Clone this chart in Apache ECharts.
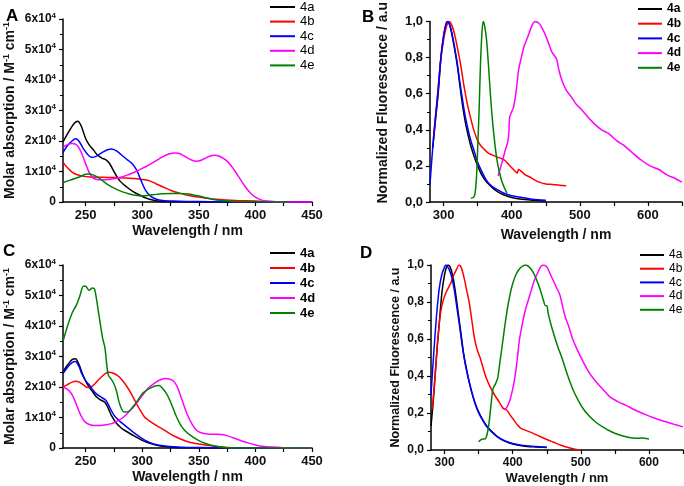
<!DOCTYPE html>
<html><head><meta charset="utf-8">
<script src="https://cdn.jsdelivr.net/npm/echarts@6/dist/echarts.min.js"></script>
<style>html,body{margin:0;padding:0;background:#fff}#c{width:684px;height:486px}</style>
</head><body><div id="c"></div>
<script>
// ---------- DATA ----------
const seriesNames = ['4a','4b','4c','4d','4e'];
const panelLetters = ['A','B','C','D'];
const xTicksAbs = [250,300,350,400,450];
const xMinorAbs = [250,275,300,325,350,375,400,425,450];
const xTicksFl = [300,400,500,600];
const xMinorFl = [300,350,400,450,500,550,600,650];

// Panel A: absorption (units of 1e4 M-1 cm-1)
const A_4a = [[230,1.97],[235,2.3],[240,2.58],[243,2.65],[246,2.5],[250,2.08],[253,1.88],[257,1.7],[260,1.56],[264,1.45],[268,1.38],[271,1.27],[275,1.0],[280,0.7],[286,0.5],[292,0.34],[298,0.22],[304,0.12],[310,0.06],[316,0.02],[325,0.01],[340,0],[450,0]];
const A_4b = [[230,1.3],[234,1.12],[238,0.98],[242,0.9],[248,0.84],[255,0.82],[265,0.81],[275,0.8],[285,0.79],[292,0.77],[300,0.74],[306,0.7],[312,0.6],[318,0.5],[326,0.37],[333,0.29],[340,0.22],[348,0.17],[355,0.13],[368,0.08],[384,0.05],[400,0.03],[415,0.01],[430,0],[450,0]];
const A_4c = [[230,1.62],[234,1.85],[238,2.0],[241,2.07],[244,2.0],[248,1.75],[252,1.55],[255,1.47],[258,1.48],[262,1.56],[266,1.65],[270,1.72],[273,1.74],[278,1.66],[283,1.5],[287,1.38],[291,1.26],[295,1.05],[299,0.7],[303,0.38],[307,0.2],[312,0.1],[318,0.05],[328,0.03],[340,0.02],[360,0.01],[380,0],[450,0]];
const A_4d = [[230,1.8],[234,1.88],[238,1.92],[241,1.9],[244,1.78],[247,1.55],[250,1.25],[253,0.98],[256,0.8],[260,0.74],[265,0.73],[270,0.74],[276,0.77],[282,0.82],[288,0.9],[294,0.99],[300,1.1],[306,1.22],[312,1.35],[318,1.48],[324,1.58],[328,1.61],[332,1.6],[336,1.53],[340,1.44],[344,1.37],[348,1.34],[352,1.37],[356,1.44],[360,1.51],[364,1.53],[368,1.5],[372,1.42],[376,1.3],[380,1.12],[384,0.9],[388,0.67],[392,0.45],[396,0.28],[400,0.16],[405,0.07],[410,0.03],[418,0.01],[430,0],[450,0]];
const A_4e = [[230,0.63],[235,0.7],[240,0.76],[245,0.83],[250,0.91],[253,0.92],[257,0.88],[262,0.78],[266,0.67],[270,0.56],[276,0.44],[282,0.34],[288,0.27],[294,0.22],[300,0.2],[306,0.22],[312,0.25],[318,0.27],[326,0.28],[334,0.28],[341,0.26],[348,0.21],[355,0.15],[362,0.09],[370,0.05],[380,0.02],[395,0.01],[410,0],[430,0]];

// Panel B: normalized fluorescence
const B_4a = [[284,0.3],[288,0.45],[292,0.6],[296,0.8],[300,0.92],[304,0.99],[306,1.0],[309,0.98],[312,0.93],[316,0.85],[320,0.76],[324,0.64],[328,0.53],[332,0.44],[336,0.37],[340,0.31],[345,0.25],[350,0.2],[356,0.15],[363,0.11],[370,0.085],[378,0.06],[388,0.04],[400,0.025],[415,0.015],[430,0.01],[450,0.005]];
const B_4b = [[285,0.35],[290,0.55],[295,0.76],[300,0.9],[304,0.97],[308,1.0],[312,0.98],[316,0.93],[320,0.86],[325,0.76],[330,0.64],[335,0.54],[340,0.46],[345,0.39],[350,0.34],[355,0.31],[360,0.29],[366,0.27],[372,0.26],[378,0.25],[385,0.24],[390,0.23],[395,0.21],[400,0.19],[405,0.17],[408,0.16],[410,0.18],[414,0.17],[420,0.15],[426,0.14],[432,0.125],[440,0.11],[450,0.1],[460,0.097],[470,0.093],[480,0.09]];
const B_4c = [[280,0.1],[284,0.3],[288,0.47],[292,0.62],[296,0.8],[300,0.92],[303,0.98],[306,1.0],[309,0.98],[312,0.94],[316,0.86],[320,0.77],[324,0.66],[328,0.56],[332,0.47],[336,0.4],[340,0.34],[345,0.28],[350,0.22],[356,0.17],[363,0.12],[370,0.09],[378,0.07],[388,0.05],[400,0.035],[415,0.025],[430,0.015],[450,0.01]];
const B_4d = [[380,0.145],[385,0.21],[390,0.28],[395,0.35],[397,0.47],[400,0.5],[403,0.53],[407,0.63],[410,0.73],[414,0.8],[418,0.86],[422,0.9],[426,0.94],[430,0.98],[434,1.0],[440,0.99],[445,0.96],[450,0.92],[455,0.87],[459,0.83],[463,0.81],[466,0.79],[470,0.72],[474,0.67],[480,0.62],[488,0.58],[495,0.54],[503,0.51],[512,0.47],[522,0.43],[532,0.4],[542,0.38],[554,0.34],[566,0.31],[578,0.27],[591,0.23],[603,0.2],[616,0.18],[628,0.15],[640,0.13],[650,0.11]];
const B_4e = [[340,0.02],[345,0.03],[348,0.12],[350,0.3],[352,0.5],[354,0.75],[356,0.92],[358,1.0],[360,0.98],[363,0.9],[366,0.75],[369,0.58],[372,0.44],[375,0.33],[378,0.24],[381,0.18],[385,0.12],[389,0.08],[393,0.05]];

// Panel C: absorption (units of 1e4 M-1 cm-1)
const C_4a = [[230,2.5],[234,2.72],[238,2.9],[241,2.93],[244,2.75],[247,2.45],[250,2.2],[253,2.0],[256,1.85],[259,1.7],[263,1.58],[267,1.5],[270,1.3],[273,1.05],[277,0.82],[282,0.64],[288,0.5],[294,0.37],[300,0.25],[306,0.16],[312,0.1],[320,0.05],[330,0.02],[345,0.01],[360,0],[450,0]];
const C_4b = [[230,2.0],[234,2.08],[238,2.16],[241,2.19],[244,2.17],[248,2.07],[252,1.98],[255,2.0],[258,2.1],[262,2.26],[266,2.4],[270,2.48],[274,2.46],[278,2.38],[282,2.24],[286,2.04],[290,1.8],[294,1.52],[298,1.25],[302,1.02],[306,0.9],[312,0.75],[318,0.62],[324,0.48],[330,0.36],[336,0.26],[342,0.19],[350,0.13],[358,0.09],[366,0.05],[375,0.02],[390,0],[450,0]];
const C_4c = [[230,2.44],[234,2.65],[238,2.8],[241,2.84],[244,2.68],[247,2.4],[250,2.2],[253,2.08],[256,1.92],[260,1.76],[264,1.66],[268,1.56],[271,1.35],[275,1.08],[280,0.88],[286,0.7],[292,0.52],[298,0.36],[304,0.22],[310,0.13],[318,0.07],[328,0.04],[340,0.02],[360,0.01],[380,0],[450,0]];
const C_4d = [[230,1.99],[234,1.92],[238,1.75],[241,1.5],[244,1.22],[247,0.98],[250,0.84],[254,0.76],[258,0.74],[263,0.74],[268,0.76],[273,0.8],[278,0.88],[283,1.0],[288,1.18],[294,1.42],[300,1.72],[305,1.95],[310,2.1],[315,2.22],[320,2.28],[324,2.26],[328,2.18],[331,2.0],[334,1.7],[337,1.38],[340,1.08],[344,0.78],[348,0.58],[352,0.5],[358,0.46],[364,0.45],[370,0.44],[376,0.39],[382,0.31],[388,0.23],[394,0.16],[400,0.1],[406,0.06],[414,0.03],[425,0.01],[440,0],[450,0]];
const C_4e = [[230,3.5],[234,4.0],[238,4.42],[242,4.7],[245,5.0],[248,5.3],[250,5.3],[253,5.17],[256,5.25],[258,5.2],[262,4.3],[265,3.6],[267,3.3],[270,2.4],[274,2.18],[277,1.9],[280,1.45],[284,1.18],[288,1.2],[292,1.36],[296,1.56],[300,1.78],[304,1.9],[308,1.98],[312,2.04],[315,2.05],[318,1.95],[322,1.75],[326,1.42],[330,1.05],[334,0.75],[338,0.56],[344,0.38],[350,0.24],[356,0.15],[362,0.08],[368,0.04],[375,0.01],[390,0],[450,0]];

// Panel D: normalized fluorescence
const D_4a = [[280,0.13],[283,0.25],[286,0.4],[289,0.55],[292,0.68],[296,0.85],[300,0.95],[303,0.99],[305,1.0],[308,0.99],[312,0.94],[316,0.85],[320,0.74],[324,0.63],[328,0.52],[332,0.44],[336,0.37],[340,0.31],[346,0.24],[352,0.19],[358,0.15],[364,0.12],[372,0.09],[380,0.065],[390,0.045],[400,0.032],[415,0.022],[430,0.017],[450,0.013]];
const D_4b = [[282,0.22],[286,0.4],[290,0.6],[294,0.74],[298,0.81],[302,0.85],[306,0.88],[310,0.91],[314,0.95],[318,0.98],[321,1.0],[324,0.99],[328,0.94],[332,0.87],[336,0.8],[340,0.7],[344,0.6],[348,0.54],[352,0.5],[356,0.45],[361,0.39],[367,0.34],[373,0.3],[380,0.26],[386,0.225],[391,0.216],[396,0.19],[401,0.165],[406,0.14],[411,0.12],[420,0.105],[430,0.09],[440,0.073],[450,0.057],[460,0.042],[470,0.027],[480,0.015],[490,0.006],[498,0]];
const D_4c = [[280,0.3],[284,0.52],[288,0.72],[292,0.87],[296,0.95],[300,0.99],[302,1.0],[306,0.98],[310,0.94],[314,0.87],[318,0.77],[322,0.67],[326,0.56],[330,0.47],[334,0.4],[338,0.34],[344,0.26],[350,0.2],[356,0.16],[362,0.125],[370,0.095],[378,0.07],[388,0.05],[400,0.035],[415,0.025],[430,0.02],[450,0.015]];
const D_4d = [[388,0.216],[392,0.235],[396,0.27],[400,0.33],[403,0.39],[406,0.47],[410,0.6],[414,0.68],[418,0.75],[422,0.8],[427,0.86],[432,0.92],[437,0.96],[441,0.99],[445,1.0],[450,0.99],[454,0.96],[459,0.92],[464,0.88],[469,0.84],[473,0.78],[477,0.72],[482,0.67],[488,0.6],[495,0.54],[503,0.48],[512,0.42],[522,0.37],[532,0.33],[542,0.29],[555,0.26],[567,0.24],[580,0.215],[596,0.19],[610,0.17],[622,0.155],[636,0.14],[650,0.125]];
const D_4e = [[350,0.045],[353,0.055],[356,0.06],[359,0.06],[362,0.08],[365,0.14],[368,0.24],[371,0.33],[375,0.36],[378,0.39],[381,0.47],[384,0.55],[388,0.66],[392,0.76],[396,0.84],[400,0.9],[405,0.95],[410,0.98],[415,0.995],[419,1.0],[424,0.99],[430,0.96],[435,0.92],[440,0.87],[445,0.81],[448,0.78],[450,0.78],[452,0.74],[456,0.68],[460,0.63],[466,0.56],[472,0.5],[480,0.41],[488,0.33],[496,0.27],[504,0.22],[512,0.185],[522,0.15],[532,0.125],[544,0.1],[556,0.082],[568,0.07],[580,0.063],[590,0.065],[600,0.06]];

// ---------- CHART ----------
const colors = ['#000000','#ff0000','#0000ff','#ff00ff','#008000'];
const FONT = 'Liberation Sans, Arial, sans-serif';
const chart = echarts.init(document.getElementById('c'), null, {renderer:'canvas'});

const panelData = [
  [A_4a,A_4b,A_4c,A_4d,A_4e],
  [B_4a,B_4b,B_4c,B_4d,B_4e],
  [C_4a,C_4b,C_4c,C_4d,C_4e],
  [D_4a,D_4b,D_4c,D_4d,D_4e]
];
const absScale = [10000,1,10000,1];

const grids = [
  {left:63, top:19, width:249, height:183},
  {left:430, top:19, width:252, height:183},
  {left:63, top:265, width:249, height:183},
  {left:431, top:265, width:252, height:185}
];

const axisLineStyle = {lineStyle:{color:'#000', width:1.5}};
const tickStyle = {lineStyle:{color:'#000', width:1.2}};

function xAxisAbs(gi){
  return {type:'value', gridIndex:gi, min:230, max:450,
    name:'Wavelength / nm', nameLocation:'middle', nameGap:22,
    nameTextStyle:{fontFamily:FONT, fontWeight:'bold', fontSize:14, color:'#111'},
    axisLine:{show:true, onZero:false, ...axisLineStyle},
    axisTick:{show:true, inside:false, length:4, customValues:xMinorAbs, ...tickStyle},
    axisLabel:{show:true, customValues:xTicksAbs, margin:7, fontFamily:FONT, fontWeight:'bold', fontSize:13, color:'#111'},
    splitLine:{show:false}};
}
function xAxisFl(gi, small){
  return {type:'value', gridIndex:gi, min:280, max:650,
    name:'Wavelength / nm', nameLocation:'middle', nameGap: small?22:26,
    nameTextStyle:{fontFamily:FONT, fontWeight:'bold', fontSize: small?13:14, color:'#111'},
    axisLine:{show:true, onZero:false, ...axisLineStyle},
    axisTick:{show:true, inside:false, length:4, customValues:xMinorFl, ...tickStyle},
    axisLabel:{show:true, customValues:xTicksFl, margin:7, fontFamily:FONT, fontWeight:'bold', fontSize: small?12:13, color:'#111'},
    splitLine:{show:false}};
}
function yAxisAbs(gi){
  return {type:'value', gridIndex:gi, min:0, max:60000, interval:10000,
    name:'{n|Molar absorption / M}{s|-1}{n| cm}{s|-1}', nameLocation:'middle', nameGap:44, nameRotate:90,
    nameTextStyle:{fontFamily:FONT, fontWeight:'bold', fontSize:14, color:'#111',
      rich:{n:{fontFamily:FONT, fontWeight:'bold', fontSize:14, lineHeight:17, color:'#111'},
            s:{fontFamily:FONT, fontWeight:'bold', fontSize:9, lineHeight:9, verticalAlign:'top', color:'#111'}}},
    axisLine:{show:true, onZero:false, ...axisLineStyle},
    axisTick:{show:true, inside:false, length:4, ...tickStyle},
    minorTick:{show:true, splitNumber:2, length:3, lineStyle:{color:'#000', width:1}},
    axisLabel:{margin:7, fontFamily:FONT, fontWeight:'bold', fontSize:12, color:'#111',
      formatter:v=> v===0 ? '{b|0}' : '{b|'+(v/10000)+'x10}{s|4}',
      rich:{b:{fontFamily:FONT, fontWeight:'bold', fontSize:12, lineHeight:15, color:'#111'},
            s:{fontFamily:FONT, fontWeight:'bold', fontSize:8, lineHeight:8, verticalAlign:'top', color:'#111'}}},
    splitLine:{show:false}};
}
function yAxisFl(gi, small){
  return {type:'value', gridIndex:gi, min:0, max:1, interval:0.2,
    name:'Normalized Fluorescence / a.u', nameLocation:'middle', nameGap: small?29:40, nameRotate:90,
    nameTextStyle:{fontFamily:FONT, fontWeight:'bold', fontSize: small?12.5:14, color:'#111',
      padding: small?[0,0,0,0]:[0,0,0,18]},
    axisLine:{show:true, onZero:false, ...axisLineStyle},
    axisTick:{show:true, inside:false, length:4, ...tickStyle},
    minorTick:{show:true, splitNumber:2, length:3, lineStyle:{color:'#000', width:1}},
    axisLabel:{margin:7, fontFamily:FONT, fontWeight:'bold', fontSize: small?12:13, color:'#111',
      formatter:v=> v.toFixed(1).replace('.',',')},
    splitLine:{show:false}};
}

const series = [];
panelData.forEach((arr, gi)=>{
  arr.forEach((d, si)=>{
    series.push({type:'line', name:seriesNames[si], xAxisIndex:gi, yAxisIndex:gi,
      data: d.map(p=>[p[0], p[1]*absScale[gi]]),
      showSymbol:false, symbol:'none', smooth:0.3,
      lineStyle:{color:colors[si], width:1.5}, itemStyle:{color:colors[si]},
      emphasis:{disabled:true}, z: 2});
  });
});

function legend(left, top, gap, w, fs, bold){
  return {show:true, orient:'vertical', left:left, top:top, data:seriesNames,
    icon:'rect', itemWidth:w, itemHeight:2, itemGap:gap, padding:0,
    textStyle:{fontFamily:FONT, fontSize:fs, fontWeight: bold?'bold':'normal', color:'#000', lineHeight:14, padding:[0,0,0,0]},
    selectedMode:false};
}

const option = {
  animation:false,
  backgroundColor:'#fff',
  grid: grids,
  xAxis:[xAxisAbs(0), xAxisFl(1,false), xAxisAbs(2), xAxisFl(3,true)],
  yAxis:[yAxisAbs(0), yAxisFl(1,false), yAxisAbs(2), yAxisFl(3,true)],
  legend:[
    legend(270, 0, 0.6, 25, 13, false),
    legend(638, 2, 0.7, 24, 12, true),
    legend(270, 246, 1, 25, 13, true),
    legend(640, 248, -0.3, 24, 12, false)
  ],
  graphic:[
    {type:'text', left:6, top:8, style:{text:panelLetters[0], font:'bold 17px '+FONT, fill:'#000'}},
    {type:'text', left:362, top:9, style:{text:panelLetters[1], font:'bold 17px '+FONT, fill:'#000'}},
    {type:'text', left:3, top:243, style:{text:panelLetters[2], font:'bold 17px '+FONT, fill:'#000'}},
    {type:'text', left:360, top:245, style:{text:panelLetters[3], font:'bold 17px '+FONT, fill:'#000'}}
  ],
  series: series
};
chart.setOption(option);
</script>
</body></html>
